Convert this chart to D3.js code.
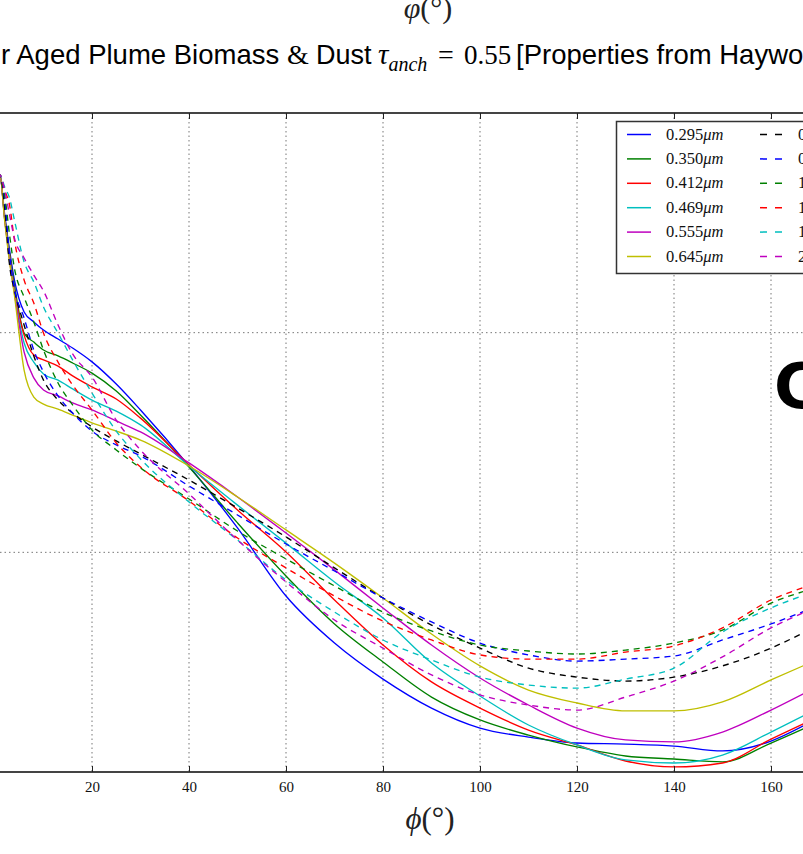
<!DOCTYPE html>
<html>
<head>
<meta charset="utf-8">
<script src="https://cdn.jsdelivr.net/npm/d3@7/dist/d3.min.js"></script>
<style>
body { margin: 0; background: #fff; }
svg { display: block; }
</style>
</head>
<body>
<div id="chart"></div>
<script>
// scattering angle grid (degrees)
var phi = [0, 1, 2, 3, 4, 6, 8, 10, 13, 16, 20, 25, 30, 40, 50, 60, 70, 80, 90, 100, 110, 120, 130, 140, 150, 160, 167];

// solid curves (short wavelengths)
var s295 = [2.649, 2.718, 2.536, 2.376, 2.240, 2.094, 2.049, 2.012, 1.971, 1.930, 1.867, 1.766, 1.648, 1.393, 1.111, 0.801, 0.587, 0.423, 0.291, 0.200, 0.159, 0.132, 0.127, 0.118, 0.096, 0.141, 0.214];
var s350 = [2.649, 2.718, 2.527, 2.363, 2.217, 1.998, 1.957, 1.921, 1.894, 1.862, 1.816, 1.734, 1.625, 1.388, 1.134, 0.892, 0.674, 0.501, 0.341, 0.237, 0.168, 0.114, 0.073, 0.059, 0.046, 0.132, 0.200];
var s412 = [2.649, 2.718, 2.522, 2.354, 2.194, 1.989, 1.898, 1.876, 1.848, 1.803, 1.753, 1.698, 1.611, 1.398, 1.193, 1.002, 0.783, 0.578, 0.410, 0.291, 0.191, 0.123, 0.050, 0.023, 0.041, 0.150, 0.223];
var s469 = [2.649, 2.718, 2.517, 2.344, 2.185, 1.953, 1.866, 1.812, 1.784, 1.744, 1.693, 1.643, 1.580, 1.393, 1.215, 1.042, 0.865, 0.701, 0.496, 0.346, 0.214, 0.123, 0.055, 0.041, 0.077, 0.182, 0.259];
var s555 = [2.649, 2.718, 2.513, 2.331, 2.181, 1.912, 1.794, 1.739, 1.712, 1.680, 1.648, 1.598, 1.548, 1.407, 1.252, 1.088, 0.920, 0.747, 0.578, 0.428, 0.305, 0.200, 0.146, 0.137, 0.182, 0.282, 0.360];
var s645 = [2.649, 2.718, 2.508, 2.322, 2.171, 1.830, 1.707, 1.675, 1.652, 1.625, 1.589, 1.552, 1.511, 1.393, 1.252, 1.102, 0.951, 0.792, 0.628, 0.483, 0.373, 0.314, 0.278, 0.278, 0.319, 0.419, 0.487];

// dashed curves (long wavelengths)
var d858 = [2.658, 2.718, 2.567, 2.308, 2.194, 2.035, 1.894, 1.784, 1.693, 1.634, 1.571, 1.507, 1.448, 1.329, 1.202, 1.070, 0.929, 0.792, 0.669, 0.564, 0.473, 0.432, 0.414, 0.432, 0.483, 0.564, 0.637];
var d936 = [2.658, 2.718, 2.604, 2.354, 2.203, 2.067, 1.921, 1.821, 1.712, 1.634, 1.552, 1.489, 1.439, 1.302, 1.170, 1.038, 0.915, 0.792, 0.683, 0.587, 0.533, 0.505, 0.514, 0.528, 0.601, 0.674, 0.733];
var d1240 = [2.658, 2.718, 2.627, 2.445, 2.294, 2.162, 2.049, 1.921, 1.771, 1.671, 1.557, 1.466, 1.384, 1.243, 1.097, 0.970, 0.847, 0.728, 0.642, 0.578, 0.551, 0.537, 0.555, 0.587, 0.646, 0.769, 0.824];
var d1375 = [2.658, 2.718, 2.649, 2.581, 2.422, 2.240, 2.135, 1.998, 1.866, 1.762, 1.648, 1.498, 1.388, 1.234, 1.065, 0.929, 0.801, 0.687, 0.601, 0.533, 0.514, 0.514, 0.546, 0.574, 0.656, 0.783, 0.842];
var d1640 = [2.658, 2.718, 2.663, 2.613, 2.513, 2.322, 2.231, 2.117, 1.998, 1.876, 1.725, 1.552, 1.425, 1.229, 1.056, 0.874, 0.728, 0.601, 0.510, 0.432, 0.396, 0.382, 0.423, 0.473, 0.637, 0.747, 0.806];
var d2130 = [2.658, 2.718, 2.649, 2.536, 2.431, 2.340, 2.262, 2.190, 2.035, 1.903, 1.798, 1.602, 1.466, 1.266, 1.056, 0.865, 0.692, 0.564, 0.442, 0.351, 0.305, 0.282, 0.341, 0.414, 0.524, 0.656, 0.728];

var solidLabels = ["0.295", "0.350", "0.412", "0.469", "0.555", "0.645"];
var dashLabels = ["0.858", "0.936", "1.240", "1.375", "1.640", "2.130"];
var xTicks = [20, 40, 60, 80, 100, 120, 140, 160];
var yGrid = [1, 2];

var solidColors = ["#0000ff", "#008000", "#ff0000", "#00bfbf", "#bf00bf", "#bfbf00"];
var dashColors = ["#000000", "#0000ff", "#008000", "#ff0000", "#00bfbf", "#bf00bf"];

var solids = [s295, s350, s412, s469, s555, s645];
var dashes = [d858, d936, d1240, d1375, d1640, d2130];

var W = 803, H = 854;
var plotTop = 113, plotBottom = 772;

var svg = d3.select("#chart").append("svg")
  .attr("width", W)
  .attr("height", H);

var x = d3.scaleLinear().domain([20, 160]).range([92, 771]);
var y = d3.scaleLinear().domain([0, 3]).range([plotBottom, plotTop]);

var serif = "'Liberation Serif', 'DejaVu Serif', serif";
var sans = "'Liberation Sans', Arial, sans-serif";

// x label of the panel above, cut at top
svg.append("text")
  .attr("x", 428).attr("y", 18)
  .attr("text-anchor", "middle")
  .attr("font-family", serif)
  .attr("font-size", 30)
  .attr("fill", "#222")
  .html("<tspan font-style='italic'>\u03c6</tspan>(\u00b0)");

// title (left part of it falls outside the picture)
var title = svg.append("text")
  .attr("y", 64)
  .attr("font-family", sans)
  .attr("font-size", 27.5)
  .attr("fill", "#000");
title.append("tspan").attr("x", 1).text("r Aged Plume Biomass");
title.append("tspan").attr("x", 287).attr("font-family", serif).attr("font-size", 28).text("&");
title.append("tspan").attr("x", 316).attr("font-size", 27).text("Dust");
title.append("tspan").attr("x", 378).attr("font-family", serif).attr("font-style", "italic").attr("font-size", 29).text("\u03c4");
title.append("tspan").attr("font-family", serif).attr("font-style", "italic")
  .attr("font-size", 20).attr("dy", 7).text("anch");
title.append("tspan").attr("x", 438).attr("dy", -7).attr("font-family", serif).attr("font-size", 28).text("=");
title.append("tspan").attr("x", 464).attr("font-family", serif).attr("font-size", 27).text("0.55");
title.append("tspan").attr("x", 516).text("[Properties from Haywood et al.]");

// grid
var grid = svg.append("g");
grid.selectAll("line.v")
  .data(d3.range(0, 181, 20))
  .enter().append("line")
  .attr("x1", function(d){ return x(d); })
  .attr("x2", function(d){ return x(d); })
  .attr("y1", plotTop).attr("y2", plotBottom)
  .attr("stroke", "#777").attr("stroke-width", 1)
  .attr("stroke-dasharray", "1.5,3");
grid.selectAll("line.h")
  .data(yGrid)
  .enter().append("line")
  .attr("x1", 0).attr("x2", W)
  .attr("y1", function(d){ return y(d); })
  .attr("y2", function(d){ return y(d); })
  .attr("stroke", "#777").attr("stroke-width", 1)
  .attr("stroke-dasharray", "1.5,3");

// clip for curves
svg.append("clipPath").attr("id", "plot")
  .append("rect").attr("x", -20).attr("y", plotTop).attr("width", W + 40).attr("height", plotBottom - plotTop);

var line = d3.line()
  .x(function(d, i){ return x(phi[i]); })
  .y(function(d){ return y(d); })
  .curve(d3.curveMonotoneX);

var curves = svg.append("g").attr("clip-path", "url(#plot)");
solids.forEach(function(s, i){
  curves.append("path")
    .attr("d", line(s))
    .attr("fill", "none")
    .attr("stroke", solidColors[i])
    .attr("stroke-width", 1.35);
});
dashes.forEach(function(s, i){
  curves.append("path")
    .attr("d", line(s))
    .attr("fill", "none")
    .attr("stroke", dashColors[i])
    .attr("stroke-width", 1.35)
    .attr("stroke-dasharray", "6,5");
});

// spines
svg.append("line").attr("x1", 0).attr("x2", W).attr("y1", plotTop).attr("y2", plotTop)
  .attr("stroke", "#444").attr("stroke-width", 2);
svg.append("line").attr("x1", 0).attr("x2", W).attr("y1", plotBottom).attr("y2", plotBottom)
  .attr("stroke", "#444").attr("stroke-width", 2);

// bottom axis (ticks inside)
var xAxis = d3.axisBottom(x).tickValues(xTicks).tickSize(-6).tickPadding(9).tickSizeOuter(0);
var gx = svg.append("g").attr("transform", "translate(0," + plotBottom + ")").call(xAxis);
gx.select(".domain").remove();
gx.selectAll(".tick line").attr("stroke", "#222");
gx.selectAll(".tick text")
  .attr("font-family", serif)
  .attr("font-size", 15)
  .attr("fill", "#111");

// top ticks (inside)
var xTop = d3.axisTop(x).tickValues(xTicks).tickSize(-6).tickFormat("");
var gt = svg.append("g").attr("transform", "translate(0," + plotTop + ")").call(xTop);
gt.select(".domain").remove();
gt.selectAll(".tick line").attr("stroke", "#222");

// x label
svg.append("text")
  .attr("x", 430).attr("y", 829)
  .attr("text-anchor", "middle")
  .attr("font-family", serif)
  .attr("font-size", 31)
  .attr("fill", "#222")
  .html("<tspan font-style='italic'>\u03d5</tspan>(\u00b0)");

// legend
var lg = svg.append("g");
lg.append("rect")
  .attr("x", 616.5).attr("y", 121.5)
  .attr("width", 300).attr("height", 152)
  .attr("fill", "#fff").attr("stroke", "#333").attr("stroke-width", 1.5);

var rowY = d3.scaleLinear().domain([0, 5]).range([134.5, 256.5]);

solidLabels.forEach(function(lbl, i){
  var ry = rowY(i);
  lg.append("line").attr("x1", 627).attr("x2", 651).attr("y1", ry).attr("y2", ry)
    .attr("stroke", solidColors[i]).attr("stroke-width", 1.5);
  lg.append("text").attr("x", 666).attr("y", ry + 5)
    .attr("font-family", serif).attr("font-size", 16.5).attr("fill", "#111")
    .html(lbl + "<tspan font-style='italic'>\u03bcm</tspan>");
});
dashLabels.forEach(function(lbl, i){
  var ry = rowY(i);
  lg.append("line").attr("x1", 760).attr("x2", 784).attr("y1", ry).attr("y2", ry)
    .attr("stroke", dashColors[i]).attr("stroke-width", 1.5)
    .attr("stroke-dasharray", "7,8");
  lg.append("text").attr("x", 798).attr("y", ry + 5)
    .attr("font-family", serif).attr("font-size", 16.5).attr("fill", "#111")
    .html(lbl + "<tspan font-style='italic'>\u03bcm</tspan>");
});

// panel letter
svg.append("text")
  .attr("x", 774).attr("y", 408)
  .attr("font-family", "'DejaVu Sans', sans-serif")
  .attr("font-weight", "bold")
  .attr("font-size", 62)
  .attr("fill", "#000")
  .text("C");
</script>
</body>
</html>
